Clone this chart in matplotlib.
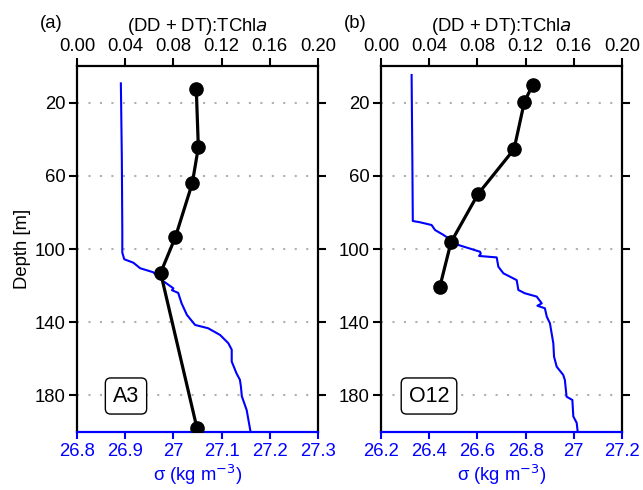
import matplotlib
matplotlib.use("Agg")
import matplotlib.pyplot as plt

plt.rcParams['font.family'] = ['Liberation Sans', 'DejaVu Sans']

# Panel (a) A3
a_ratio = [0.099, 0.1007, 0.0957, 0.0816, 0.0694, 0.0996]
a_ratio_depth = [12.7, 44.4, 64.0, 93.6, 113.0, 198.0]
a_sigma = [26.891, 26.893, 26.894, 26.894, 26.898, 26.917, 26.931, 26.958, 26.976, 27.000,
           26.997, 27.010, 27.017, 27.028, 27.045, 27.072, 27.097, 27.114, 27.121, 27.121,
           27.131, 27.138, 27.140, 27.142, 27.152, 27.160]
a_sigma_depth = [9.5, 50.0, 90.0, 102.0, 105.6, 107.5, 110.5, 112.7, 117.0, 121.5,
                 122.5, 124.0, 129.7, 136.0, 141.5, 143.3, 147.0, 151.5, 155.0, 161.5,
                 168.0, 171.5, 175.0, 180.5, 188.0, 199.8]

# Panel (b) O12
b_ratio = [0.1259, 0.119, 0.1104, 0.0805, 0.0581, 0.0487]
b_ratio_depth = [10.4, 19.5, 45.5, 70.0, 96.3, 121.0]
b_sigma = [26.327, 26.330, 26.332, 26.362, 26.410, 26.424, 26.459, 26.521, 26.611, 26.614,
           26.607, 26.680, 26.687, 26.708, 26.763, 26.770, 26.797, 26.846, 26.867, 26.849,
           26.880, 26.888, 26.901, 26.915, 26.918, 26.929, 26.956, 26.963, 26.970, 26.994,
           26.998, 27.012, 27.016]
b_sigma_depth = [4.9, 50.0, 84.7, 85.4, 86.9, 89.6, 92.3, 97.8, 101.5, 102.5,
                 103.8, 104.6, 109.7, 113.3, 117.0, 122.4, 124.2, 126.0, 129.7, 131.0,
                 132.4, 137.0, 140.6, 151.5, 158.8, 164.3, 168.8, 171.6, 180.7, 182.5,
                 191.5, 195.0, 199.8]

ratio_ticks = [0.00, 0.04, 0.08, 0.12, 0.16, 0.20]
ratio_labels = ['0.00', '0.04', '0.08', '0.12', '0.16', '0.20']
depth_ticks = [20, 60, 100, 140, 180]
a_sig_ticks = [26.8, 26.9, 27.0, 27.1, 27.2, 27.3]
a_sig_labels = ['26.8', '26.9', '27', '27.1', '27.2', '27.3']
b_sig_ticks = [26.2, 26.4, 26.6, 26.8, 27.0, 27.2]
b_sig_labels = ['26.2', '26.4', '26.6', '26.8', '27', '27.2']

fig = plt.figure(figsize=(6.43, 4.90), dpi=100)
FS = 13.3
BLUE = '#0000ff'

panels = [
    (77, '(a)', 'A3', a_ratio, a_ratio_depth, a_sigma, a_sigma_depth, (26.8, 27.3), a_sig_ticks, a_sig_labels),
    (381, '(b)', 'O12', b_ratio, b_ratio_depth, b_sigma, b_sigma_depth, (26.2, 27.2), b_sig_ticks, b_sig_labels),
]

for i, (left_px, plabel, name, rat, ratd, sig, sigd, slim, sticks, slabels) in enumerate(panels):
    ax = fig.add_axes([left_px / 643, 1 - 432 / 490, 241 / 643, 366 / 490])
    ax.plot(sig, sigd, color=BLUE, lw=1.5, zorder=3)
    ax.set_xlim(*slim)
    ax.set_ylim(200, 0)
    ax.set_xticks(sticks)
    ax.set_xticklabels(slabels)
    ax.set_yticks(depth_ticks)
    ax.tick_params(axis='x', colors=BLUE, labelsize=FS, direction='out', length=5, width=1.5, pad=3)
    ax.tick_params(axis='y', labelsize=FS, direction='out', length=6, width=1.5, pad=2,
                   right=True, labelright=False)
    for y in depth_ticks:
        ax.axhline(y, color='#b0b0b0', lw=1.5, ls=(0, (1, 4.5)), zorder=1)
    for s in ['left', 'right', 'top']:
        ax.spines[s].set_linewidth(1.6)
    ax.spines['bottom'].set_linewidth(1.6)
    ax.spines['bottom'].set_color(BLUE)
    ax.set_xlabel('σ (kg m$^{-3}$)', color=BLUE, fontsize=FS, labelpad=2)
    if i == 0:
        ax.set_ylabel('Depth [m]', fontsize=FS, labelpad=3)

    ax2 = ax.twiny()
    ax2.plot(rat, ratd, color='black', lw=2.3, marker='o', ms=9.5, zorder=4)
    ax2.set_xlim(0, 0.2)
    ax2.set_xticks(ratio_ticks)
    ax2.set_xticklabels(ratio_labels)
    ax2.tick_params(axis='x', labelsize=FS, direction='out', length=6, width=1.5, pad=2)
    for s in ax2.spines.values():
        s.set_visible(False)
    ax2.set_xlabel('(DD + DT):TChl$\\mathit{a}$', fontsize=FS, labelpad=5)

    fig.text((left_px - 26) / 643, 1 - 23 / 490, plabel, fontsize=FS, ha='center', va='center')

    cx = (126 if i == 0 else 429)
    ax.text((cx - left_px) / 241, 1 - (396 - 66) / 366, name, transform=ax.transAxes,
            fontsize=15.5, ha='center', va='center', zorder=6,
            bbox=dict(boxstyle='round,pad=0.35,rounding_size=0.25', fc='white', ec='black', lw=1))

fig.savefig('out.png', dpi=100)
